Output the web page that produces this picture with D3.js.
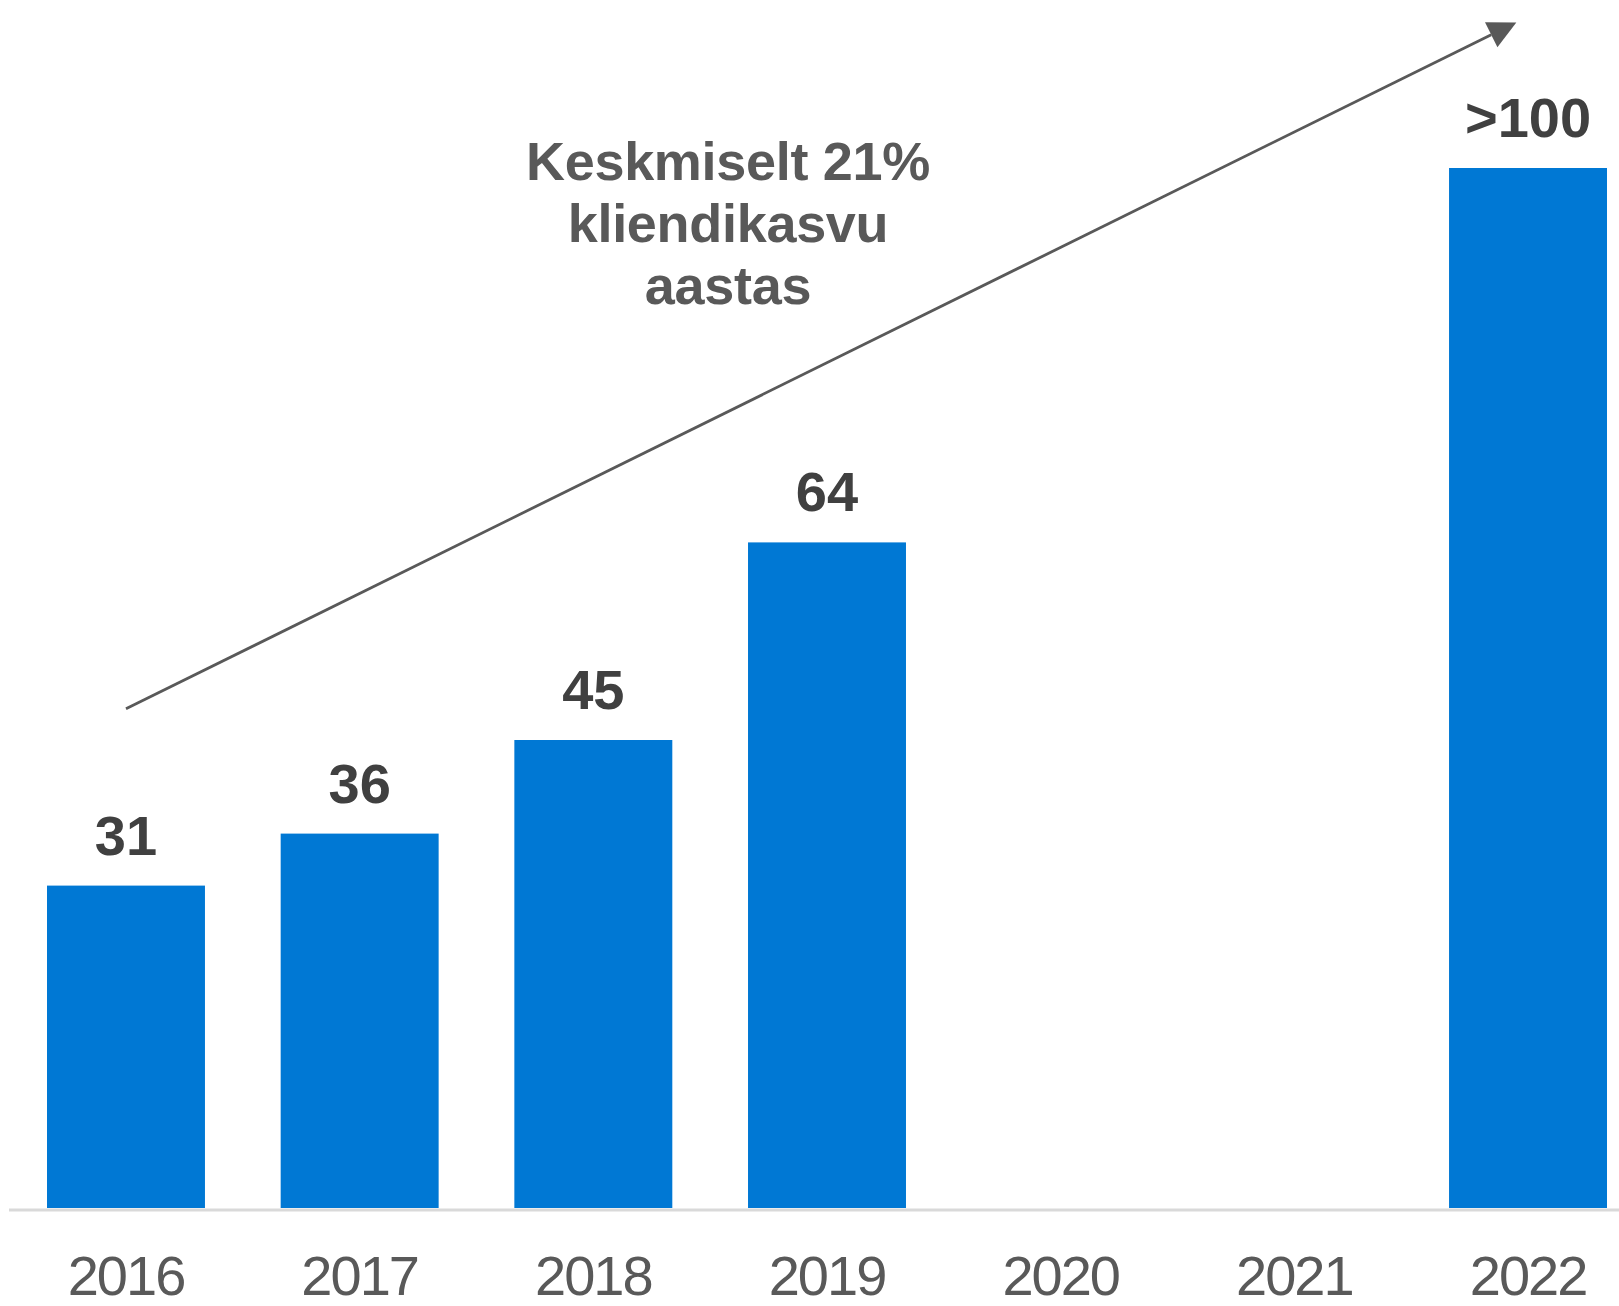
<!DOCTYPE html>
<html>
<head>
<meta charset="utf-8">
<script src="https://cdn.jsdelivr.net/npm/d3@7"></script>
<style>
  html, body { margin: 0; padding: 0; background: #fff; }
  svg { display: block; }
</style>
</head>
<body>
<div id="chart"></div>
<script>
// data
const years = ["2016", "2017", "2018", "2019", "2020", "2021", "2022"];
const customers = [31, 36, 45, 64, null, null, 100];
const valueLabels = ["31", "36", "45", "64", "", "", ">100"];
const noteLines = ["Keskmiselt 21%", "kliendikasvu", "aastas"];
// trend arrow, in (year index, value) units
const arrowFrom = [0, 48];
const arrowTo = [5.95, 114];

const WIDTH = 1619, HEIGHT = 1306;
const barColor = "#0078d4";

let svg = d3.select("#chart").append("svg")
    .attr("width", WIDTH).attr("height", HEIGHT)
    .style("background-color", "#fff");

let xBand = d3.scaleBand().domain(years)
    .range([47, 1607]).paddingInner(0.324).paddingOuter(0);
let yScale = d3.scaleLinear().domain([0, 100]).range([1208, 168]);

// index -> band centre, used for the arrow
let xIdx = d3.scaleLinear().domain([0, years.length - 1])
    .range([xBand(years[0]) + xBand.bandwidth() / 2, xBand(years[6]) + xBand.bandwidth() / 2]);

let barData = years.map((y, i) => ({ year: y, v: customers[i], label: valueLabels[i] }))
    .filter(d => d.v != null);

// bars
svg.append("g").selectAll("rect")
    .data(barData)
    .enter().append("rect")
    .attr("x", d => xBand(d.year))
    .attr("y", d => yScale(d.v))
    .attr("width", xBand.bandwidth())
    .attr("height", d => yScale(0) - yScale(d.v))
    .attr("fill", barColor);

// baseline
svg.append("line")
    .attr("x1", 9).attr("x2", WIDTH)
    .attr("y1", yScale(0) + 2).attr("y2", yScale(0) + 2)
    .attr("stroke", "#d9d9d9").attr("stroke-width", 3);

// value labels
svg.append("g").selectAll("text")
    .data(barData)
    .enter().append("text")
    .attr("x", d => xBand(d.year) + xBand.bandwidth() / 2)
    .attr("y", d => yScale(d.v) - 31)
    .attr("text-anchor", "middle")
    .attr("font-family", "Liberation Sans, Arial, sans-serif")
    .attr("font-weight", "bold")
    .attr("font-size", "56px")
    .attr("fill", "#404040")
    .text(d => d.label);

// year axis labels
let xAxis = d3.axisBottom(xBand).tickSize(0).tickPadding(0);
let axisG = svg.append("g")
    .attr("transform", "translate(0,1295)")
    .call(xAxis);
axisG.select(".domain").remove();
axisG.selectAll("text")
    .attr("dy", 0)
    .attr("y", 0)
    .attr("font-family", "Liberation Sans, Arial, sans-serif")
    .attr("font-size", "56px")
    .attr("letter-spacing", "-2px")
    .attr("fill", "#595959");

// trend arrow
let x0 = xIdx(arrowFrom[0]), y0 = yScale(arrowFrom[1]);
let x1 = xIdx(arrowTo[0]), y1 = yScale(arrowTo[1]);
let ang = Math.atan2(y1 - y0, x1 - x0);
let headLen = 28, headHalf = 14;
let bx = x1 - headLen * Math.cos(ang), by = y1 - headLen * Math.sin(ang);
svg.append("line")
    .attr("x1", x0).attr("y1", y0)
    .attr("x2", bx).attr("y2", by)
    .attr("stroke", "#595959").attr("stroke-width", 2.8);
svg.append("path")
    .attr("d", "M" + [x1, y1] +
        "L" + [bx + headHalf * Math.sin(ang), by - headHalf * Math.cos(ang)] +
        "L" + [bx - headHalf * Math.sin(ang), by + headHalf * Math.cos(ang)] + "Z")
    .attr("fill", "#595959");

// annotation
svg.append("text")
    .attr("x", 728).attr("y", 180)
    .attr("text-anchor", "middle")
    .attr("font-family", "Liberation Sans, Arial, sans-serif")
    .attr("font-weight", "bold")
    .attr("font-size", "54px")
    .attr("letter-spacing", "-0.3px")
    .attr("fill", "#595959")
    .selectAll("tspan")
    .data(noteLines)
    .enter().append("tspan")
    .attr("x", 728)
    .attr("dy", (d, i) => i === 0 ? 0 : 62)
    .text(d => d);
</script>
</body>
</html>
